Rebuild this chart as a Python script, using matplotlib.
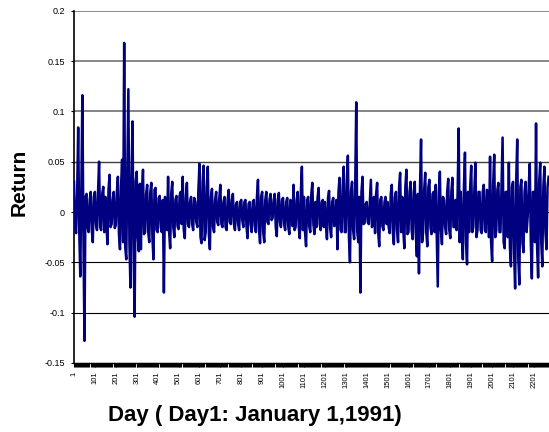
import matplotlib
matplotlib.use("Agg")
import matplotlib.pyplot as plt
from matplotlib.ticker import MultipleLocator

# Daily returns at 10-day steps (days 1, 11, 21, ...)
ret = [
    0.030, -0.021, 0.084, -0.064, 0.116, -0.128, 0.018, -0.020, 0.020, -0.030,
    0.020, -0.018, 0.050, -0.018, 0.025, 0.015, -0.032, 0.037, -0.012, 0.020,
    -0.013, 0.035, -0.037, 0.052, 0.168, -0.047, 0.122, -0.075, 0.090, -0.104,
    0.040, -0.039, -0.037, 0.042, -0.020, 0.027, -0.030, 0.029, -0.047, 0.024,
    -0.020, 0.016, -0.020, -0.080, 0.012, 0.035, -0.036, 0.030, -0.025, 0.016,
    -0.017, 0.020, 0.035, -0.026, 0.029, -0.015, 0.015, -0.018, 0.010, -0.015,
    0.048, -0.031, 0.046, -0.020, 0.045, -0.037, 0.023, -0.020, 0.020, -0.013,
    0.027, -0.015, 0.015, -0.018, 0.022, -0.012, 0.018, -0.018, 0.010, -0.018,
    0.012, -0.015, 0.012, -0.026, 0.010, -0.020, 0.012, -0.020, 0.032, -0.031,
    0.020, -0.030, 0.020, -0.012, 0.018, -0.006, 0.018, -0.024, 0.019, -0.015,
    0.014, -0.018, 0.014, -0.022, 0.010, 0.027, -0.015, 0.020, -0.026, 0.045,
    0.015, -0.034, 0.015, -0.020, 0.029, -0.022, -0.015, 0.024, -0.018, 0.012,
    0.010, -0.027, 0.021, -0.025, 0.014, -0.012, -0.037, 0.034, -0.020, 0.045,
    -0.020, 0.056, -0.050, 0.030, -0.027, 0.109, -0.030, -0.080, 0.035, -0.011,
    0.010, -0.012, 0.032, -0.012, -0.021, 0.029, -0.034, 0.015, -0.018, 0.015,
    0.010, -0.021, 0.027, -0.032, 0.020, -0.030, 0.039, 0.015, -0.036, 0.042,
    -0.020, 0.030, -0.027, 0.030, -0.044, -0.061, 0.072, -0.020, 0.039, -0.034,
    0.032, -0.022, 0.020, 0.027, -0.074, 0.040, -0.032, 0.012, -0.022, 0.033,
    -0.026, 0.034, -0.015, -0.018, 0.083, 0.020, -0.047, 0.059, -0.052, -0.020,
    0.046, -0.015, 0.049, -0.018, 0.020, -0.021, 0.027, -0.020, 0.020, 0.055,
    -0.049, 0.057, -0.018, 0.029, -0.020, 0.074, -0.036, 0.020, 0.049, -0.054,
    0.030, -0.076, 0.072, -0.072, 0.032, -0.040, 0.030, -0.005, 0.048, -0.066,
    0.020, 0.088, -0.065, 0.049, -0.054, 0.045, -0.037, 0.035,
]
# Band-edge returns read in between (days 6, 16, 26, ...)
ret_mid = [
    -0.015, 0.018, -0.018, 0.020, -0.020, 0.015, -0.015, 0.012, -0.018, 0.015,
    -0.012, 0.020, -0.015, 0.018, -0.020, -0.012, 0.022, -0.015, 0.012, -0.016,
    0.020, -0.022, 0.025, -0.030, -0.035, 0.040, -0.030, 0.035, -0.040, 0.030,
    -0.025, 0.028, 0.020, -0.022, 0.018, -0.020, 0.020, -0.025, 0.022, -0.018,
    0.014, -0.015, 0.012, 0.015, -0.018, -0.020, 0.018, -0.015, 0.012, -0.014,
    0.016, -0.012, -0.018, 0.015, -0.012, 0.010, -0.012, 0.014, -0.010, 0.022,
    -0.025, 0.030, -0.028, 0.025, -0.022, 0.015, -0.015, 0.012, -0.010, 0.014,
    -0.012, 0.010, -0.015, 0.012, -0.010, 0.012, -0.012, 0.008, -0.012, 0.010,
    -0.008, 0.010, -0.014, 0.008, -0.012, 0.010, -0.014, 0.015, -0.018, 0.015,
    -0.020, 0.012, -0.010, 0.012, -0.008, 0.012, -0.015, 0.012, -0.010, 0.012,
    -0.012, 0.010, -0.015, 0.012, -0.014, -0.018, 0.012, -0.015, 0.020, -0.018,
    -0.020, 0.012, -0.014, 0.018, -0.012, 0.010, 0.014, -0.012, 0.010, -0.015,
    -0.012, 0.014, -0.016, 0.010, -0.014, 0.012, 0.020, -0.018, 0.025, -0.020,
    0.030, -0.025, 0.020, -0.018, 0.025, -0.020, 0.015, 0.020, -0.012, 0.008,
    -0.010, 0.010, -0.015, 0.015, 0.018, -0.020, 0.012, -0.014, 0.010, -0.012,
    -0.015, 0.018, -0.020, 0.015, -0.018, 0.025, -0.020, -0.018, 0.025, -0.022,
    0.020, -0.018, 0.020, -0.022, 0.018, 0.025, -0.030, 0.022, -0.020, 0.025,
    -0.015, 0.018, -0.020, -0.022, 0.020, -0.018, 0.015, -0.015, 0.020, -0.018,
    0.020, -0.015, 0.012, 0.020, -0.030, -0.020, 0.025, -0.030, 0.020, 0.025,
    -0.020, 0.022, -0.025, 0.020, -0.018, 0.020, -0.018, 0.022, -0.025, -0.030,
    0.028, -0.025, 0.022, -0.020, 0.025, -0.030, 0.020, -0.025, -0.035, 0.025,
    -0.040, 0.030, -0.045, 0.025, -0.030, 0.020, -0.020, 0.025, -0.030, 0.020,
    -0.030, -0.035, 0.030, -0.030, 0.025, -0.020, 0.025,
]

values = []
for i, v in enumerate(ret):
    values.append(v)
    if i < len(ret_mid):
        values.append(ret_mid[i])
day_step = 5
days = [1 + day_step * i for i in range(len(values))]

xtick_days = list(range(1, 2202, 100))
ytick_vals = [-0.15, -0.1, -0.05, 0, 0.05, 0.1, 0.15, 0.2]
ytick_labels = ["-0.15", "-0.1", "-0.05", "0", "0.05", "0.1", "0.15", "0.2"]
x_label = "Day ( Day1: January 1,1991)"
y_label = "Return"

plt.rcParams['font.family'] = ['Liberation Sans', 'DejaVu Sans']

fig = plt.figure(figsize=(5.49, 4.32), dpi=100)
ax = fig.add_axes([74 / 549, 69 / 432, 475 / 549, 352.3 / 432])

ax.plot(days, values, color='#000080', lw=1.8, zorder=3)
ax.set_xlim(1, 2273)
ax.set_ylim(-0.15, 0.2)

ax.set_yticks(ytick_vals)
ax.set_yticklabels(ytick_labels, fontsize=6.5)
ax.set_xticks(xtick_days)
ax.set_xticklabels([str(d) for d in xtick_days], rotation=90, fontsize=5.5)
ax.xaxis.set_minor_locator(MultipleLocator(5))
ax.tick_params(axis='x', which='minor', length=3, width=0.8, direction='out')
ax.tick_params(axis='x', which='major', length=3, width=0.8, direction='out', pad=3)
ax.tick_params(axis='y', length=2.5, width=0.8, direction='out', pad=4)

ax.grid(axis='y', zorder=1)
grid_colors = {0.2: ('#808080', 1.3), 0.15: ('#808080', 1.3), 0.1: ('#707070', 1.2),
               0.05: ('#404040', 1.0), 0: ('#000000', 0.8), -0.05: ('#000000', 0.8),
               -0.1: ('#000000', 0.8), -0.15: ('#000000', 0.8)}
for gl, v in zip(ax.get_ygridlines(), ytick_vals):
    c, w = grid_colors[v]
    gl.set_color(c)
    gl.set_linewidth(w)

for s in ['top', 'right']:
    ax.spines[s].set_visible(False)
ax.spines['left'].set_linewidth(1.2)
ax.spines['bottom'].set_linewidth(1.0)

fig.text(255 / 549, (432 - 421.5) / 432, x_label, ha='center', va='baseline',
         fontsize=16, fontweight='bold')
fig.text(19 / 549, 1 - 182 / 432, y_label, ha='center', va='center', rotation=90,
         fontsize=15, fontweight='bold')

fig.savefig('out.png', dpi=100)
